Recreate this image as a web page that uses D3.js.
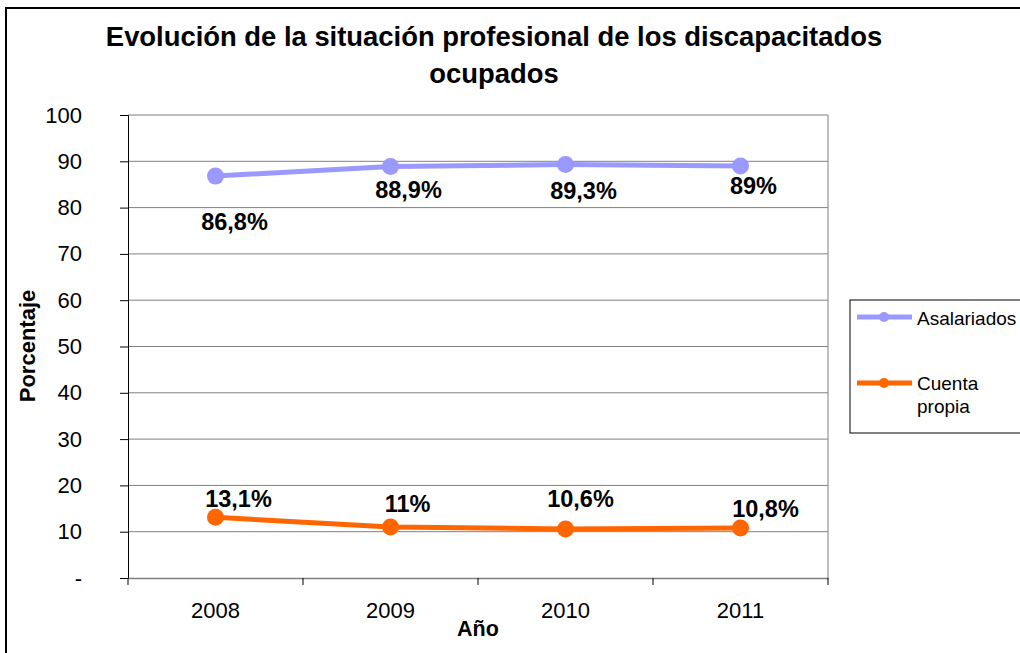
<!DOCTYPE html>
<html><head><meta charset="utf-8">
<script src="https://cdn.jsdelivr.net/npm/d3@7"></script>
<style>body{margin:0;background:#fff}svg{display:block;font-family:Arial,"Liberation Sans",sans-serif}</style>
</head><body>
<svg id="c" width="1020" height="653"></svg>
<script>
const years = ["2008","2009","2010","2011"];
const asalariados = [86.8, 88.9, 89.3, 89.0];
const cuentaPropia = [13.1, 11.0, 10.6, 10.8];
const asalLabels = ["86,8%","88,9%","89,3%","89%"];
const cuentaLabels = ["13,1%","11%","10,6%","10,8%"];
const yTicks = [0,10,20,30,40,50,60,70,80,90,100];
const seriesNames = ["Asalariados","Cuenta propia"];
const colors = ["#9999FF","#FF6600"];
// label offsets (dx, dy from point) as placed in the original
const asalOff = [[19,54],[18,32],[18,34],[13,28]];
const cuentaOff = [[23,-10],[17,-15],[15,-22],[25,-11]];

const FF = "Arial,'Liberation Sans',sans-serif";
const svg = d3.select("#c");
svg.append("rect").attr("x",6).attr("y",8).attr("width",1040).attr("height",660)
  .attr("fill","none").attr("stroke","#000").attr("stroke-width",2);

const L=128,R=828,T=115,B=578;
const x = d3.scaleBand().domain(years).range([L,R]);
const y = d3.scaleLinear().domain([0,100]).range([B,T]);

svg.append("g").selectAll("line").data(yTicks.filter(d=>d>0)).join("line")
  .attr("x1",L).attr("x2",R).attr("y1",d=>y(d)).attr("y2",d=>y(d))
  .attr("stroke","#808080").attr("stroke-width",1);
svg.append("line").attr("x1",R).attr("x2",R).attr("y1",T).attr("y2",B).attr("stroke","#808080");

const ya = svg.append("g").attr("transform",`translate(${L},0)`)
  .call(d3.axisLeft(y).tickValues(yTicks).tickSize(8).tickPadding(38).tickFormat(d=>d===0?"-":d));
ya.select(".domain").attr("stroke","#000");
ya.selectAll(".tick line").attr("stroke","#000");
ya.selectAll("text").attr("font-size",22).attr("fill","#000").attr("font-family",FF);

const xa = svg.append("g").attr("transform",`translate(0,${B})`)
  .call(d3.axisBottom(x).tickSize(0).tickPadding(24));
xa.select(".domain").attr("stroke","#808080").attr("stroke-width",1.5);
xa.selectAll("text").attr("font-size",22).attr("fill","#000").attr("font-family",FF);
const bounds = years.map(d=>x(d)).concat([R]);
svg.append("g").selectAll("line").data(bounds).join("line")
  .attr("x1",d=>d).attr("x2",d=>d).attr("y1",B).attr("y2",B+7).attr("stroke","#000");

const cx = d=>x(d)+x.bandwidth()/2;
const line = d3.line().x(d=>cx(d[0])).y(d=>y(d[1]));
[asalariados,cuentaPropia].forEach((vals,i)=>{
  const pts = years.map((yr,j)=>[yr,vals[j]]);
  svg.append("path").datum(pts).attr("d",line).attr("fill","none")
    .attr("stroke",colors[i]).attr("stroke-width",5);
  svg.append("g").selectAll("circle").data(pts).join("circle")
    .attr("cx",d=>cx(d[0])).attr("cy",d=>y(d[1])).attr("r",8.5).attr("fill",colors[i]);
});

svg.append("g").selectAll("text").data(years).join("text")
  .attr("x",(d,j)=>cx(d)+asalOff[j][0]).attr("y",(d,j)=>y(asalariados[j])+asalOff[j][1])
  .attr("text-anchor","middle").attr("font-size",23.5).attr("font-weight","bold")
  .text((d,j)=>asalLabels[j]);
svg.append("g").selectAll("text").data(years).join("text")
  .attr("x",(d,j)=>cx(d)+cuentaOff[j][0]).attr("y",(d,j)=>y(cuentaPropia[j])+cuentaOff[j][1])
  .attr("text-anchor","middle").attr("font-size",23.5).attr("font-weight","bold")
  .text((d,j)=>cuentaLabels[j]);

const title = svg.append("text").attr("text-anchor","middle").attr("font-size",27.4).attr("font-weight","bold");
title.append("tspan").attr("x",494).attr("y",46).text("Evolución de la situación profesional de los discapacitados");
title.append("tspan").attr("x",494).attr("y",83).text("ocupados");

svg.append("text").attr("x",478).attr("y",636).attr("text-anchor","middle")
  .attr("font-size",21.5).attr("font-weight","bold").text("Año");
svg.append("text").attr("transform","translate(35,346) rotate(-90)").attr("text-anchor","middle")
  .attr("font-size",22).attr("font-weight","bold").text("Porcentaje");

svg.append("rect").attr("x",850).attr("y",300).attr("width",200).attr("height",133)
  .attr("fill","#fff").attr("stroke","#000").attr("stroke-width",1);
const lg = [{y:317,base:325,lines:["Asalariados"]},{y:383,base:390,lines:["Cuenta","propia"]}];
lg.forEach((g,i)=>{
  svg.append("line").attr("x1",857).attr("x2",912).attr("y1",g.y).attr("y2",g.y)
    .attr("stroke",colors[i]).attr("stroke-width",5);
  svg.append("circle").attr("cx",884).attr("cy",g.y).attr("r",5).attr("fill",colors[i]);
  g.lines.forEach((t,k)=>svg.append("text").attr("x",917).attr("y",g.base+k*23)
    .attr("font-size",19).text(t));
});
</script>
</body></html>
